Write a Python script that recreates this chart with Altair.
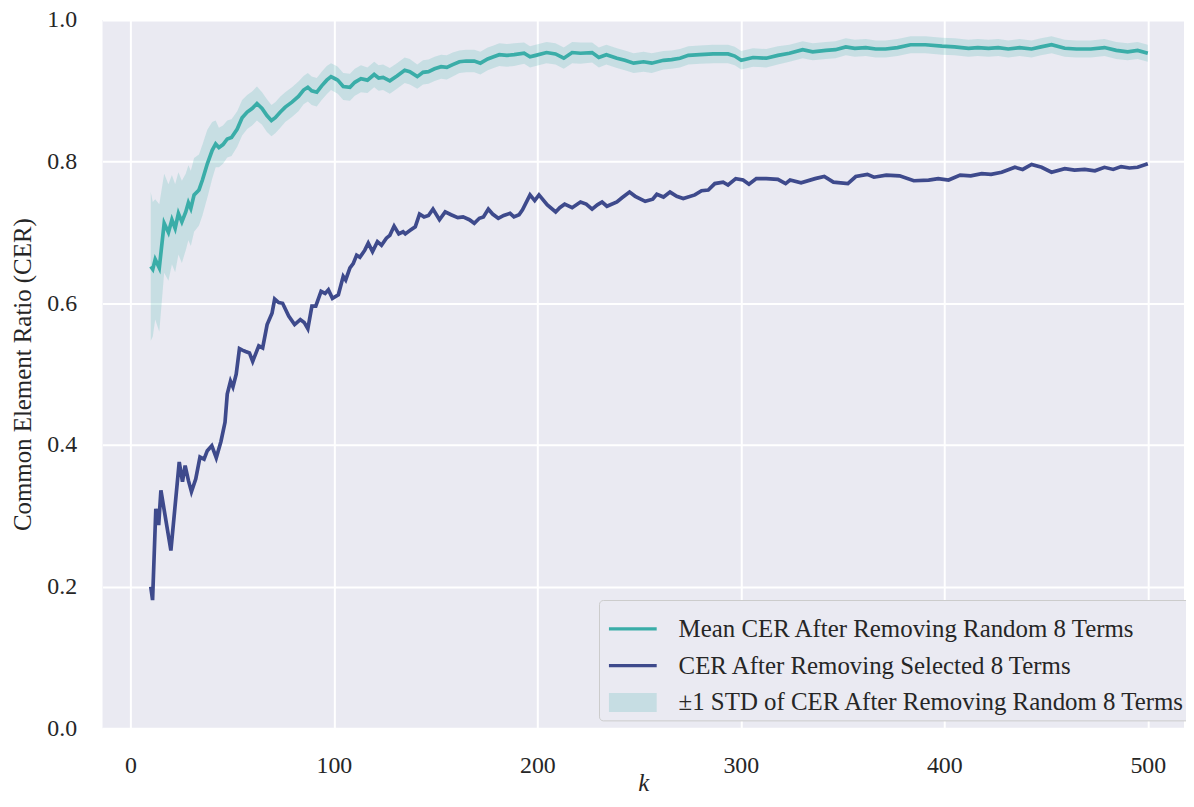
import altair as alt
import pandas as pd

# ---- data ----
k_sel = [10, 10.9, 12.5, 13.9, 15, 19.9, 24, 25.6, 26.9, 28.5, 30, 32.1, 34.2, 36.2, 37.8, 40, 42.2, 44.5,
         46.5, 47.6, 49.2, 50.4, 52, 53.6, 55, 56.6, 58.5, 60.1, 63.1, 65, 67.2, 69.6, 70.9, 72.9, 74.8, 77.8,
         80.7, 83.5, 85.4, 87.2, 89.2, 91.1, 93.7, 95.7, 97.3, 99.3, 102.2, 104.6, 105.8, 107.9, 109.5, 111.2,
         112.8, 115.2, 116.9, 119, 121.4, 123.4, 125.8, 127.5, 129.6, 131.9, 134, 135.1, 137.5, 140, 142.1,
         144.3, 146.5, 148.7, 151.9, 154.7, 157.6, 160.9, 163.5, 166.6, 169, 171.5, 173.5, 175.9, 178, 180.8,
         183.5, 186.6, 188.5, 191, 192.7, 196.4, 198.7, 200.8, 204.9, 209, 211, 213.4, 217.1, 221.2, 224,
         226.9, 229.5, 231.8, 234.2, 239.1, 241.6, 245.3, 248.1, 253, 256.7, 258.7, 262, 265.2, 268.5, 271.7,
         277.4, 280.7, 284, 287.2, 291.3, 293.7, 297.5, 301.1, 304, 307.6, 312.5, 318.2, 322, 324.2, 329.6,
         336.5, 341, 345.5, 352.6, 356.5, 362.2, 365.4, 371.5, 378, 385, 392.3, 397, 402.1, 407.8, 413, 418.4,
         423, 428.2, 434.7, 438.5, 442.9, 447.8, 452.7, 459.2, 464, 469, 474, 478.7, 483, 486.9, 491, 495, 500]
cer_sel = [0.200, 0.181, 0.310, 0.287, 0.336, 0.251, 0.376, 0.348, 0.371, 0.350, 0.334, 0.352, 0.383, 0.380,
           0.392, 0.399, 0.382, 0.405, 0.432, 0.472, 0.490, 0.482, 0.500, 0.536, 0.534, 0.532, 0.530, 0.518,
           0.540, 0.537, 0.570, 0.586, 0.606, 0.601, 0.600, 0.582, 0.570, 0.577, 0.573, 0.564, 0.596, 0.596,
           0.617, 0.614, 0.619, 0.607, 0.612, 0.638, 0.633, 0.650, 0.656, 0.668, 0.665, 0.675, 0.685, 0.673,
           0.687, 0.682, 0.692, 0.696, 0.709, 0.698, 0.701, 0.698, 0.703, 0.708, 0.726, 0.722, 0.724, 0.733,
           0.718, 0.729, 0.725, 0.721, 0.722, 0.718, 0.713, 0.720, 0.722, 0.733, 0.726, 0.720, 0.724, 0.727,
           0.722, 0.725, 0.732, 0.753, 0.745, 0.753, 0.739, 0.729, 0.735, 0.740, 0.735, 0.743, 0.740, 0.733,
           0.739, 0.743, 0.737, 0.743, 0.749, 0.757, 0.751, 0.744, 0.747, 0.754, 0.750, 0.757, 0.751, 0.748,
           0.753, 0.759, 0.760, 0.769, 0.771, 0.767, 0.776, 0.774, 0.768, 0.776, 0.776, 0.775, 0.769, 0.774,
           0.770, 0.776, 0.779, 0.771, 0.769, 0.779, 0.782, 0.778, 0.781, 0.780, 0.773, 0.774, 0.776, 0.774,
           0.781, 0.780, 0.783, 0.782, 0.785, 0.792, 0.789, 0.796, 0.792, 0.785, 0.790, 0.788, 0.789, 0.787,
           0.792, 0.789, 0.793, 0.791, 0.792, 0.797]

k_rand = [10, 11, 12.2, 14.2, 16.6, 18.7, 20.4, 22, 23.6, 25.3, 27.2, 28.5, 29.7, 31.3, 33.7, 35.4, 37.8,
          40.2, 41.9, 43.5, 45.5, 47.6, 49.7, 52.5, 54.9, 57.4, 59.8, 62.2, 64.7, 67.1, 69.3, 71.2, 73.7, 76.1,
          79.4, 82.6, 85.1, 87.2, 89.1, 91.6, 94, 96.5, 98.6, 100.6, 101.9, 104.6, 107.9, 110.3, 113.3, 116.5,
          119.8, 122, 124.2, 127.5, 131, 134.8, 137.3, 141, 143.8, 146.5, 149.5, 152.7, 155.5, 158.4, 161.7,
          165, 169, 172, 175.6, 178.5, 181.3, 185, 188.6, 193.5, 196.4, 199.2, 204.5, 208.9, 213, 217.1, 221.2,
          226.9, 230.2, 233.9, 239.1, 243, 247.3, 252.2, 256.2, 262, 266, 270.1, 274.2, 279.9, 286.4, 293.7,
          297, 300.2, 306, 312.5, 318.2, 323.9, 330.4, 335.3, 341.8, 346.5, 351.6, 356, 361.4, 366.3, 371.1,
          377, 383.4, 390.7, 398.9, 405, 411.9, 416.5, 421.7, 426.5, 431.4, 437, 442.9, 447.5, 452.7, 459.2,
          464.9, 472, 478.7, 484.5, 490.1, 495, 500]
cer_mean = [0.652, 0.648, 0.662, 0.650, 0.713, 0.700, 0.718, 0.706, 0.727, 0.715, 0.729, 0.742, 0.734, 0.753,
            0.760, 0.774, 0.797, 0.816, 0.825, 0.820, 0.824, 0.832, 0.834, 0.846, 0.862, 0.870, 0.875, 0.882,
            0.875, 0.865, 0.858, 0.862, 0.870, 0.877, 0.884, 0.892, 0.901, 0.905, 0.900, 0.898, 0.907, 0.915,
            0.920, 0.917, 0.915, 0.906, 0.905, 0.912, 0.917, 0.915, 0.923, 0.918, 0.919, 0.914, 0.921, 0.929,
            0.927, 0.920, 0.926, 0.927, 0.931, 0.934, 0.933, 0.937, 0.941, 0.942, 0.942, 0.939, 0.945, 0.948,
            0.951, 0.950, 0.951, 0.953, 0.948, 0.950, 0.954, 0.952, 0.946, 0.954, 0.953, 0.954, 0.947, 0.951,
            0.946, 0.943, 0.939, 0.941, 0.939, 0.943, 0.944, 0.946, 0.950, 0.951, 0.952, 0.952, 0.949, 0.943,
            0.947, 0.946, 0.950, 0.953, 0.958, 0.955, 0.957, 0.958, 0.962, 0.960, 0.961, 0.959, 0.959, 0.961,
            0.965, 0.965, 0.963, 0.962, 0.960, 0.961, 0.960, 0.961, 0.959, 0.961, 0.959, 0.962, 0.965, 0.960,
            0.959, 0.959, 0.961, 0.957, 0.955, 0.957, 0.953]
cer_std = [0.105, 0.095, 0.085, 0.090, 0.070, 0.068, 0.063, 0.062, 0.058, 0.058, 0.054, 0.053, 0.053, 0.052,
           0.050, 0.050, 0.048, 0.040, 0.033, 0.028, 0.027, 0.026, 0.026, 0.025, 0.025, 0.024, 0.024, 0.024,
           0.023, 0.023, 0.022, 0.022, 0.022, 0.021, 0.021, 0.021, 0.020, 0.020, 0.020, 0.020, 0.020, 0.020,
           0.019, 0.019, 0.019, 0.019, 0.019, 0.019, 0.019, 0.018, 0.018, 0.018, 0.018, 0.018, 0.018, 0.018,
           0.018, 0.017, 0.017, 0.017, 0.017, 0.017, 0.017, 0.017, 0.016, 0.016, 0.016, 0.016, 0.016, 0.016,
           0.016, 0.016, 0.016, 0.015, 0.015, 0.015, 0.015, 0.015, 0.015, 0.015, 0.015, 0.014, 0.014, 0.014,
           0.014, 0.014, 0.014, 0.014, 0.014, 0.013, 0.013, 0.013, 0.013, 0.013, 0.013, 0.013, 0.013, 0.013,
           0.013, 0.013, 0.013, 0.012, 0.012, 0.012, 0.012, 0.012, 0.012, 0.012, 0.012, 0.012, 0.012, 0.012,
           0.012, 0.012, 0.012, 0.012, 0.012, 0.012, 0.012, 0.012, 0.012, 0.012, 0.012, 0.012, 0.012, 0.012,
           0.012, 0.012, 0.012, 0.012, 0.012, 0.012, 0.012]

x_ticks = [0, 100, 200, 300, 400, 500]
y_ticks = [0.0, 0.2, 0.4, 0.6, 0.8, 1.0]
labels = ["Mean CER After Removing Random 8 Terms",
          "CER After Removing Selected 8 Terms",
          "\u00b11 STD of CER After Removing Random 8 Terms"]

# ---- styling ----
TEAL = "#3AADA8"
NAVY = "#3E4A8C"
BAND = "#C6DDE3"
BG = "#EAEAF2"
TXT = "#262626"
FONT = "Liberation Serif"

df_sel = pd.DataFrame({"k": k_sel, "v": cer_sel})
df_rand = pd.DataFrame({"k": k_rand, "mean": cer_mean, "std": cer_std})
df_rand["lo"] = df_rand["mean"] - df_rand["std"]
df_rand["hi"] = df_rand["mean"] + df_rand["std"]
df_leg = pd.DataFrame({"series": labels, "k": [None] * 3, "v": [None] * 3})

xs = alt.Scale(domain=[-13.7, 517.8], nice=False, zero=False)
ys = alt.Scale(domain=[0, 1], nice=False, zero=False)

xax = alt.Axis(values=x_ticks, title="k", titleFontStyle="italic", labelPadding=25,
               titleY=62, titleBaseline="alphabetic")
yax = alt.Axis(values=y_ticks, format=".1f", title="Common Element Ratio (CER)", labelPadding=26,
               titlePadding=11)

band = alt.Chart(df_rand).mark_area(color=TEAL, opacity=0.2).encode(
    x=alt.X("k:Q", scale=xs, axis=xax),
    y=alt.Y("lo:Q", scale=ys, axis=yax),
    y2="hi:Q",
)
mean_line = alt.Chart(df_rand).mark_line(color=TEAL, strokeWidth=3.7).encode(
    x=alt.X("k:Q", scale=xs), y=alt.Y("mean:Q", scale=ys))
sel_line = alt.Chart(df_sel).mark_line(color=NAVY, strokeWidth=3.7).encode(
    x=alt.X("k:Q", scale=xs), y=alt.Y("v:Q", scale=ys))

LINE_PATH = "M-1,-0.07H1V0.07H-1Z"
SQ_PATH = "M-1,-0.4H1V0.4H-1Z"
leg_props = dict(orient="none", legendX=499, legendY=583, title=None, fillColor=BG, strokeColor="#CCCCCC",
                 cornerRadius=4, padding=5, labelFont=FONT, labelFontSize=25, labelColor=TXT, labelLimit=1000,
                 symbolSize=2304, symbolStrokeWidth=0, symbolOpacity=1, rowPadding=-4, labelOffset=22,
                 symbolOffset=5)
legend_layer = alt.Chart(df_leg).mark_point(filled=True, opacity=1).encode(
    x=alt.X("k:Q", scale=xs),
    y=alt.Y("v:Q", scale=ys),
    color=alt.Color("series:N", scale=alt.Scale(domain=labels, range=[TEAL, NAVY, BAND]),
                    sort=labels, legend=alt.Legend(**leg_props)),
    shape=alt.Shape("series:N", scale=alt.Scale(domain=labels, range=[LINE_PATH, LINE_PATH, SQ_PATH]),
                    sort=labels, legend=alt.Legend(**leg_props)),
)

chart = alt.layer(band, mean_line, sel_line, legend_layer).properties(
    width=1087, height=712,
    padding={"left": 95, "top": 10, "right": 2, "bottom": 69},
    autosize=alt.AutoSizeParams(type="none"),
).configure_view(fill=BG, stroke=None).configure_axis(
    grid=True, gridColor="white", gridWidth=2, domain=False, ticks=False,
    labelFont=FONT, labelFontSize=24, labelColor=TXT,
    titleFont=FONT, titleFontSize=25, titleColor=TXT, titleFontWeight="normal",
).configure_legend(labelFont=FONT, labelFontSize=25, labelColor=TXT)

chart.save("out.html", embed_options={"renderer": "svg", "actions": False})
